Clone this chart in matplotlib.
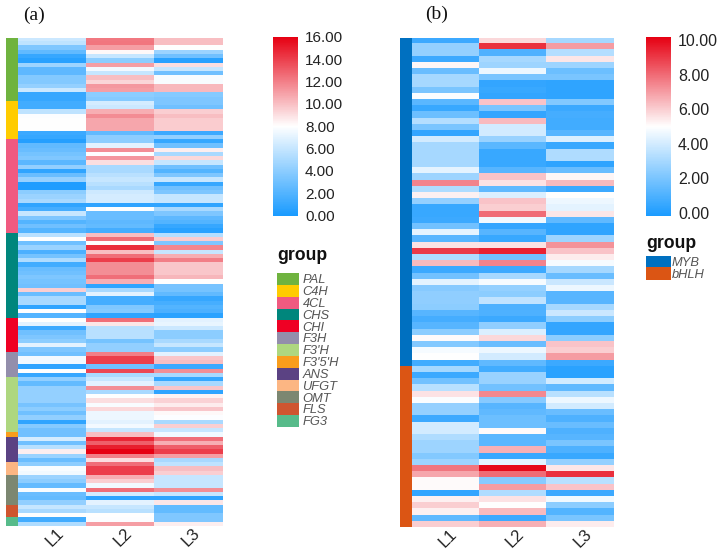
import numpy as np
from matplotlib import pyplot as plt
from matplotlib.colors import LinearSegmentedColormap, ListedColormap, Normalize
from matplotlib.transforms import ScaledTranslation

plt.rcParams['font.family'] = ['Liberation Sans', 'DejaVu Sans']

samples = ['L1', 'L2', 'L3']

# panel (a) values, one list per sample
a_l1 = [6.2, 5.8, 3.6, 2.5, 1, 0.5, 4.6, 2.4, 2.4, 3.7, 3.7, 4.3, 6.2, 1, 1,
        1.4, 1.4, 5.8, 7.9, 8, 8, 8, 1.2, 1,
        0.4, 2.5, 2.8, 3.2, 3.6, 2.3, 4.2, 0.8, 2.8, 4.4, 0.2, 0.2, 4, 4.5,
        5, 0.8, 1.5, 6, 3.5, 2, 3, 2,
        5.5, 8, 3, 4.5, 1.8, 3.2, 5.2, 1.4, 2.8, 3, 3.5, 3.2, 3, 9.5, 2.8, 5, 5, 0.8, 8, 2,
        8, 7, 1.2, 3, 3.5, 4, 7, 3.5,
        3, 7.6, 7.5, 0.8, 8, 1,
        4.2, 2.6, 4.3, 4.3, 4.3, 4.3, 3.3, 4, 3, 4.2, 0.8, 3.8, 3,
        3,
        6.5, 3, 5.5, 8.5, 4.5, 2.8,
        4, 7.8, 7.5,
        4.5, 4, 2.6, 7.8, 2.8, 2.6, 4.2,
        6, 5, 8,
        1.4, 5.2]
a_l2 = [12.2, 12.3, 11, 8.2, 6, 4, 11, 7.6, 6, 10, 9.3, 11.2, 11, 4, 3.8,
        6.5, 6.2, 10.5, 11.6, 10.8, 10.8, 10.8, 2.5, 4,
        4, 7, 11.5, 8, 11.3, 9, 5, 5, 5.6, 6, 5.5, 5, 6.3, 6.5,
        6.5, 0.8, 8, 2.8, 2.8, 2.4, 2.6, 1.5,
        10, 12.5, 8, 14.5, 10, 12.5, 14, 11.5, 11.5, 11.5, 12.5, 10.5, 0.8, 5, 7, 1.5, 1.5, 3.6, 3.8, 0.8,
        12.5, 8.8, 5.5, 5.5, 5.5, 3.2, 4.2, 4.2,
        12, 14, 14, 3, 13.8, 5,
        6, 7, 11.5, 5, 8, 9, 7.8, 9.2, 7.4, 7.4, 7, 7.6, 6,
        10,
        14.8, 13, 15, 16, 12, 9,
        12.5, 14, 14,
        10.5, 9.5, 7.5, 12.5, 6.5, 0.8, 7,
        6, 5.5, 8,
        7.9, 11]
a_l3 = [10, 10, 8, 4.5, 3, 0.5, 9, 6, 3, 7.8, 7.8, 10.2, 10.2, 3.8, 3.5,
        3.5, 3, 9.5, 10, 9.6, 9.6, 9.6, 1.2, 4.2,
        1, 3, 8.5, 5, 9.2, 6, 3, 2, 3.5, 6, 1, 3, 3.5, 6,
        6, 0.8, 5, 3.5, 2.4, 2, 1, 0.5,
        5.4, 9.6, 3.5, 11.8, 6, 10.5, 12, 9.8, 9.8, 9.8, 10.3, 8, 3.3, 3.2, 2.5, 1, 1.6, 2, 1.8, 0.6,
        7, 7.2, 6.2, 4, 4, 5, 6, 4,
        7, 9.8, 10, 1.2, 11.5, 5,
        1, 5, 9.8, 0.8, 8.4, 9.4, 8.6, 9.8, 8.2, 7.9, 5, 9.5, 6,
        7.5,
        12.5, 10.5, 13, 14, 11, 5,
        5.8, 10, 9.5,
        6, 6, 6, 11.5, 6, 0.8, 8.8,
        2.6, 2.6, 3.6,
        3.6, 8.5]

# panel (b) values
b_l1 = [0.6, 2.6, 2.6, 0.6, 5.2, 1.6, 3, 3, 2, 4.9, 1.3, 0.5, 1.7, 3.3, 2, 0.4, 4, 3, 3, 3, 3, 4.4, 2.8, 7.5, 3.2, 5.3,
        2.6, 0.5, 0.5, 0.6, 1.8, 4.4, 1.2, 5.6, 9, 3.2, 6.4, 0.6, 1.8, 4.4, 2.3, 2.5, 2.5, 2.4, 1.2, 0.8, 1.2, 2.4, 5.1, 2.2, 4.8, 5, 0.7,
        3, 0.6, 1.8, 3.4, 5.6, 4.9, 2.6, 2.6, 0.6, 4, 4, 3.2, 2.8, 2.8, 2.2, 2.8, 7.8, 6.8, 5.1, 5.1, 0.4, 5.3, 6, 5.3, 1.4, 6]
b_l2 = [5.8, 9.2, 1, 3, 2.8, 4.6, 2, 0.4, 0.5, 0.4, 6.2, 2, 0.4, 6.4, 4, 4, 2.7, 1.3, 0.5, 0.5, 0.5, 1.2, 6.2, 5.6, 1.4, 4.2,
        6.2, 6, 8, 4.7, 0.4, 1.2, 0.5, 5.6, 9.5, 1.8, 7.5, 0.6, 3, 4.8, 2.6, 2.4, 3.6, 1, 1, 0.6, 2.5, 4.2, 5.8, 1.6, 4.6, 4, 1.4,
        0.7, 2.7, 2.7, 1.8, 7.4, 2.3, 1.2, 1.4, 1.7, 1.7, 5.1, 1.3, 1.3, 6.6, 0.5, 4.4, 10, 8, 2.3, 7, 3.2, 5.6, 5, 6.4, 0.6, 6.6]
b_l3 = [3, 7, 3.3, 5.5, 2.8, 1.7, 2, 0.3, 0.3, 0.3, 2.2, 0.6, 0.8, 0.7, 0.7, 1.2, 4.2, 0.5, 3.2, 3.2, 0.3, 1.6, 5.2, 6.4, 0.6, 5,
        4.6, 4.4, 5.5, 1.4, 0.3, 0.3, 2.8, 7.2, 6.2, 5.4, 4.8, 3, 1.6, 3.8, 4.6, 1.2, 1.2, 3, 3.8, 2.4, 0.4, 0.4, 2.4, 6.2, 6, 7, 0.6,
        0.2, 0.2, 4, 1.4, 3.4, 4.6, 4, 1.6, 1, 1.6, 1, 1.2, 2, 1, 0.5, 2.6, 5.5, 9.2, 3.4, 6.2, 0.6, 4.7, 2.4, 1.1, 2, 5.4]

a_groups = ['PAL', 'C4H', '4CL', 'CHS', 'CHI', 'F3H', "F3'H", "F3'5'H", 'ANS', 'UFGT', 'OMT', 'FLS', 'FG3']
a_sizes = [15, 9, 22, 20, 8, 6, 13, 1, 6, 3, 7, 3, 2]
a_colors = ['#6fb33f', '#ffcc00', '#f05a80', '#00867c', '#ef0024', '#938eab', '#aed77f',
            '#f99d1c', '#5b4283', '#fcb683', '#7c8771', '#cf5530', '#57bb8a']

b_groups = ['MYB', 'bHLH']
b_sizes = [53, 26]
b_colors = ['#0070c0', '#db5514']

heat_cmap = LinearSegmentedColormap.from_list('heat', ['#1a9bff', '#ffffff', '#e60012'])

W, H = 721, 557
fig = plt.figure(figsize=(W / 100, H / 100), dpi=100)


def px_axes(x0, y0, x1, y1):
    # axes from pixel box, y counted from the top of the picture
    return fig.add_axes([x0 / W, 1 - y1 / H, (x1 - x0) / W, (y1 - y0) / H])


def draw_panel(values, vmin, vmax, ticks, sizes, colors, heat_box, annot_box, cbar_box, tick_pad, label_fs):
    data = np.column_stack(values)
    norm = Normalize(vmin, vmax)

    ax = px_axes(*heat_box)
    im = ax.imshow(data, cmap=heat_cmap, norm=norm, aspect='auto', interpolation='nearest')
    ax.set_xticks(range(3))
    ax.set_xticklabels(samples, rotation=45, ha='center', va='center', fontsize=12, color='#222222')
    ax.set_yticks([])
    ax.tick_params(axis='x', length=0, pad=tick_pad)
    for s in ax.spines.values():
        s.set_visible(False)
    # nudge the rotated labels a little to the right
    nudge = ScaledTranslation(2 / 72, 0, fig.dpi_scale_trans)
    for lab in ax.get_xticklabels():
        lab.set_transform(lab.get_transform() + nudge)

    # group strip left of the heatmap
    idx = np.repeat(np.arange(len(sizes)), sizes).reshape(-1, 1)
    ax2 = px_axes(*annot_box)
    ax2.imshow(idx, cmap=ListedColormap(colors), aspect='auto', interpolation='nearest')
    ax2.axis('off')

    cax = px_axes(*cbar_box)
    cb = fig.colorbar(im, cax=cax, ticks=ticks)
    cb.ax.set_yticklabels([f'{t:.2f}' for t in ticks], fontsize=label_fs, color='#222222')
    cb.ax.tick_params(length=0, pad=5)
    cb.outline.set_visible(False)


def draw_legend(groups, colors, box, title_x, title_y, fontsize, pad):
    idx = np.arange(len(groups)).reshape(-1, 1)
    ax = px_axes(*box)
    ax.imshow(idx, cmap=ListedColormap(colors), aspect='auto', interpolation='nearest')
    ax.set_xticks([])
    ax.yaxis.tick_right()
    ax.set_yticks(range(len(groups)))
    ax.set_yticklabels(groups, fontsize=fontsize, style='italic', color='#555555')
    ax.tick_params(axis='y', length=0, pad=pad)
    for s in ax.spines.values():
        s.set_visible(False)
    fig.text(title_x / W, 1 - title_y / H, 'group', fontsize=12.7, fontweight='bold',
             color='#111111', va='center', ha='left')


draw_panel([a_l1, a_l2, a_l3], 0, 16, [0, 2, 4, 6, 8, 10, 12, 14, 16], a_sizes, a_colors,
           (18, 37.5, 222.5, 526), (6, 37.5, 18, 526), (273, 37, 298, 215.5), 8, 11)
draw_panel([b_l1, b_l2, b_l3], -0.2, 10.2, [0, 2, 4, 6, 8, 10], b_sizes, b_colors,
           (412, 37.5, 613.5, 527), (400, 37.5, 412, 527), (646, 37, 671, 216), 8, 11.5)

draw_legend(a_groups, a_colors, (277, 272.7, 299, 426.7), 277, 256, 9.3, 2.5)
draw_legend(b_groups, b_colors, (646, 255.7, 671, 280), 646, 243, 9.3, 0.5)

fig.text(23 / W, 1 - 15 / H, '(a)', family='Liberation Serif', fontsize=14, va='center', color='#111111')
fig.text(425 / W, 1 - 14 / H, '(b)', family='Liberation Serif', fontsize=14, va='center', color='#111111')

fig.savefig('out.png', dpi=100)
